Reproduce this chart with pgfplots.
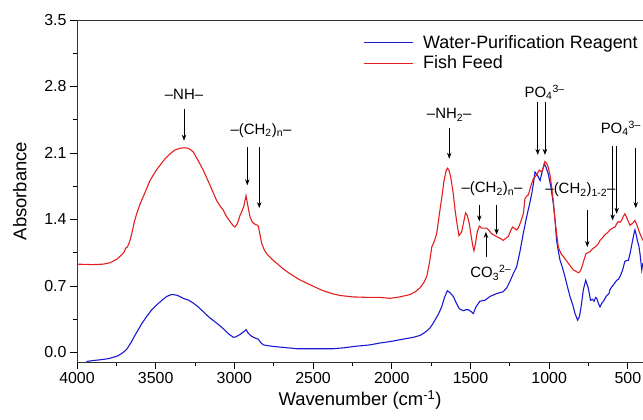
\documentclass[border=0pt]{standalone}
\usepackage{fontspec}
\setmainfont{Liberation Sans}
\usepackage{pgfplots}
\pgfplotsset{compat=1.18}
\usetikzlibrary{arrows.meta}

\definecolor{rblue}{RGB}{25,25,210}
\definecolor{rred}{RGB}{228,30,30}
\newcommand{\ann}{\fontsize{15}{18}\selectfont}
\tikzset{annarrow/.style={-{Stealth[length=6bp,width=4.5bp]}, line width=0.8bp, black}}

\begin{document}
\begin{tikzpicture}
\begin{axis}[
  name=ax,
  scale only axis,
  width=566bp, height=342bp,
  x dir=reverse,
  xmin=404, xmax=4000,
  ymin=-0.1, ymax=3.5,
  axis x line*=bottom, axis y line*=left,
  xtick={500,1000,1500,2000,2500,3000,3500,4000},
  ytick={0,0.7,1.4,2.1,2.8,3.5},
  minor x tick num=1, minor y tick num=1,
  tick align=outside,
  major tick length=7bp, minor tick length=4bp,
  tick style={black, line width=0.8bp},
  axis line style={line width=0.8bp, black!80},
  ticklabel style={font=\fontsize{16}{19}\selectfont},
  /pgf/number format/assume math mode=true,
  xticklabel style={/pgf/number format/.cd, set thousands separator={}},
  yticklabel style={/pgf/number format/.cd, fixed, fixed zerofill, precision=1},
  xlabel={Wavenumber (cm\textsuperscript{-1})},
  ylabel={Absorbance},
  label style={font=\fontsize{18.5}{22}\selectfont},
  ylabel style={yshift=11bp},
  legend style={draw=none, fill=none, at={(0.505,0.961)}, anchor=north west,
    font=\fontsize{18}{21}\selectfont, inner sep=0pt, row sep=2bp, cells={anchor=west}},
  legend image code/.code={\draw[#1] (0bp,0bp) -- (49bp,0bp); \path (57bp,0bp);},
  legend cell align=left,
]
\addplot[rblue, line width=1.1bp] coordinates {
(3940,-0.095) (3900,-0.085) (3854,-0.077) (3800,-0.065) (3769,-0.05) (3740,-0.035)
(3716,-0.01) (3700,0.01) (3684,0.035) (3670,0.07) (3655,0.11) (3642,0.15) (3625,0.20)
(3611,0.24) (3590,0.30) (3557,0.38) (3525,0.45) (3494,0.50) (3460,0.55) (3430,0.59)
(3400,0.61) (3388,0.61) (3360,0.60) (3325,0.57) (3290,0.55) (3261,0.52) (3230,0.48)
(3198,0.43) (3160,0.37) (3113,0.31) (3070,0.25) (3040,0.20) (3007,0.16) (2990,0.165)
(2964,0.19) (2940,0.22) (2926,0.24) (2910,0.20) (2890,0.17) (2865,0.15) (2848,0.14)
(2830,0.10) (2816,0.08) (2760,0.065) (2710,0.057) (2604,0.04) (2500,0.04) (2371,0.04)
(2300,0.05) (2244,0.063) (2139,0.08) (2075,0.10) (2011,0.115) (1930,0.14) (1863,0.16)
(1820,0.18) (1800,0.20) (1775,0.23) (1757,0.26) (1740,0.30) (1726,0.34) (1705,0.40)
(1683,0.48) (1665,0.58) (1647,0.65) (1630,0.63) (1609,0.59) (1590,0.52) (1571,0.46)
(1545,0.44) (1530,0.45) (1514,0.45) (1495,0.43) (1482,0.41) (1465,0.48) (1440,0.54)
(1408,0.55) (1376,0.59) (1334,0.62) (1313,0.63) (1292,0.64) (1270,0.68) (1249,0.75)
(1228,0.83) (1207,0.90) (1186,1.06) (1165,1.25) (1143,1.43) (1125,1.56) (1111,1.67)
(1100,1.78) (1090,1.90) (1073,1.86) (1058,1.81) (1048,1.88) (1031,1.99) (1020,1.95)
(1006,1.88) (990,1.75) (974,1.57) (963,1.40) (953,1.18) (942,1.07) (931,0.97)
(915,0.89) (900,0.80) (885,0.70) (868,0.59) (850,0.50) (836,0.41) (819,0.34)
(808,0.38) (800,0.45) (790,0.57) (783,0.66) (768,0.76) (752,0.68) (737,0.55)
(725,0.56) (715,0.54) (705,0.58) (698,0.57) (688,0.52) (677,0.48) (665,0.52)
(655,0.54) (645,0.57) (634,0.60) (620,0.62) (614,0.66) (603,0.69) (593,0.71)
(580,0.74) (571,0.76) (560,0.77) (550,0.80) (535,0.86) (519,0.96) (505,0.97)
(497,0.97) (485,1.05) (470,1.18) (460,1.26) (455,1.29) (447,1.24) (440,1.18)
(430,1.12) (423,1.04) (412,0.87) (405,0.94)
};
\addlegendentry{Water-Purification Reagent}
\addplot[rred, line width=1.1bp] coordinates {
(4000,0.93) (3900,0.925) (3833,0.93) (3790,0.945) (3748,0.98) (3715,1.03) (3700,1.06)
(3690,1.10) (3680,1.11) (3665,1.17) (3652,1.25) (3635,1.38) (3621,1.46) (3600,1.56)
(3579,1.64) (3536,1.81) (3500,1.91) (3473,1.97) (3440,2.04) (3409,2.09) (3380,2.13)
(3346,2.15) (3320,2.155) (3293,2.15) (3275,2.13) (3261,2.11) (3230,2.02) (3198,1.92)
(3160,1.78) (3113,1.60) (3090,1.54) (3071,1.50) (3050,1.43) (3028,1.38) (3010,1.34)
(2996,1.32) (2980,1.36) (2965,1.44) (2954,1.48) (2940,1.54) (2926,1.65) (2915,1.55)
(2901,1.43) (2885,1.37) (2869,1.35) (2855,1.34) (2848,1.33) (2835,1.22) (2827,1.15)
(2810,1.08) (2795,1.04) (2760,0.98) (2731,0.94) (2690,0.88) (2647,0.83) (2590,0.77)
(2541,0.73) (2490,0.69) (2435,0.65) (2380,0.62) (2329,0.60) (2244,0.585) (2150,0.58)
(2075,0.58) (2011,0.57) (1950,0.585) (1884,0.61) (1850,0.64) (1821,0.68) (1795,0.74)
(1778,0.80) (1760,0.95) (1746,1.11) (1730,1.17) (1715,1.25) (1694,1.50) (1680,1.66)
(1668,1.81) (1655,1.91) (1647,1.94) (1637,1.92) (1626,1.85) (1610,1.68) (1598,1.50)
(1585,1.35) (1573,1.23) (1556,1.27) (1540,1.40) (1531,1.47) (1520,1.44) (1508,1.36)
(1495,1.22) (1485,1.12) (1478,1.07) (1468,1.15) (1457,1.27) (1444,1.33) (1430,1.31)
(1419,1.31) (1397,1.31) (1380,1.28) (1365,1.25) (1334,1.22) (1310,1.20) (1292,1.18)
(1270,1.21) (1260,1.22) (1240,1.30) (1232,1.32) (1207,1.29) (1196,1.31) (1180,1.38)
(1164,1.46) (1154,1.62) (1140,1.65) (1133,1.66) (1115,1.76) (1101,1.83) (1079,1.87)
(1063,1.92) (1048,1.90) (1035,1.96) (1027,2.01) (1015,1.99) (1006,1.95) (994,1.86)
(984,1.74) (973,1.58) (963,1.39) (952,1.24) (942,1.11) (925,1.04) (910,1.01)
(879,0.94) (847,0.87) (815,0.84) (805,0.85) (794,0.89) (780,0.97) (766,1.04)
(755,1.05) (741,1.06) (725,1.09) (709,1.11) (690,1.14) (677,1.18) (660,1.21)
(646,1.24) (630,1.26) (614,1.29) (597,1.31) (582,1.32) (570,1.36) (561,1.38)
(550,1.37) (540,1.39) (530,1.43) (519,1.46) (505,1.41) (487,1.34) (470,1.36)
(455,1.39) (440,1.33) (428,1.27) (405,1.18)
};
\addlegendentry{Fish Feed}

% top frame line
\draw[line width=0.8bp, black!80] (axis description cs:0,1) -- (axis description cs:1,1);

% annotations
\node[font=\ann] at (axis cs:3320,2.72) {–NH–};
\draw[annarrow] (axis cs:3320,2.56) -- (axis cs:3320,2.23);

\node[font=\ann] at (axis cs:2831,2.34) {–(CH\textsubscript{2})\textsubscript{n}–};
\draw[annarrow] (axis cs:2918,2.16) -- (axis cs:2918,1.76);
\draw[annarrow] (axis cs:2842,2.16) -- (axis cs:2842,1.52);

\node[font=\ann] at (axis cs:1635,2.50) {–NH\textsubscript{2}–};
\draw[annarrow] (axis cs:1635,2.36) -- (axis cs:1635,2.04);

\node[font=\ann] at (axis cs:1363,1.72) {–(CH\textsubscript{2})\textsubscript{n}–};
\draw[annarrow] (axis cs:1444,1.55) -- (axis cs:1444,1.38);
\draw[annarrow] (axis cs:1334,1.55) -- (axis cs:1334,1.24);

\node[font=\ann] at (axis cs:1371,0.84) {CO\textsubscript{3}\textsuperscript{2–}};
\draw[annarrow] (axis cs:1402,1.01) -- (axis cs:1402,1.27);

\node[font=\ann] at (axis cs:1029,2.74) {PO\textsubscript{4}\textsuperscript{3–}};
\draw[annarrow] (axis cs:1073,2.64) -- (axis cs:1073,2.08);
\draw[annarrow] (axis cs:1027,2.64) -- (axis cs:1027,2.08);

\node[font=\ann] at (axis cs:801,1.71) {–(CH\textsubscript{2})\textsubscript{1-2}–};
\draw[annarrow] (axis cs:758,1.50) -- (axis cs:758,1.11);

\node[font=\ann] at (axis cs:545,2.36) {PO\textsubscript{4}\textsuperscript{3–}};
\draw[annarrow] (axis cs:597,2.17) -- (axis cs:597,1.39);
\draw[annarrow] (axis cs:571,2.17) -- (axis cs:571,1.46);
\draw[annarrow] (axis cs:450,2.15) -- (axis cs:450,1.52);

\coordinate (bl) at (axis description cs:0,0);
\coordinate (tr) at (axis description cs:1,1);
\end{axis}
\pgfresetboundingbox
\path ([xshift=-77bp,yshift=-58bp]bl) rectangle ([yshift=20bp]tr);
\end{tikzpicture}
\end{document}
